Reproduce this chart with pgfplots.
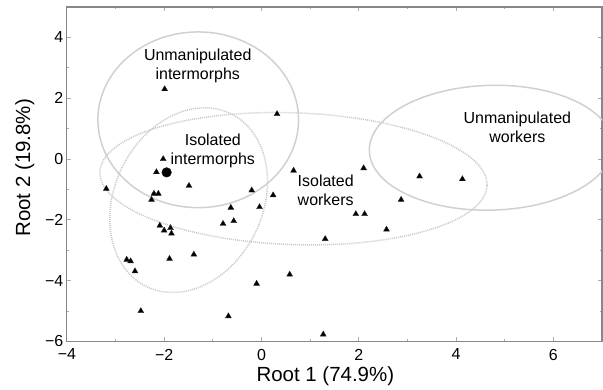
\documentclass[border=0pt]{standalone}
\usepackage{fontspec}
\setmainfont{Liberation Sans}
\usepackage{pgfplots}
\pgfplotsset{compat=1.18}
\definecolor{ellgray}{RGB}{208,208,208}
\definecolor{dotgray}{RGB}{200,200,200}
\definecolor{framegray}{RGB}{135,135,135}
\begin{document}
\begin{tikzpicture}
\begin{axis}[
  name=ax,
  scale only axis,
  width=536pt, height=335pt,
  xmin=-4, xmax=7, ymin=-6, ymax=5,
  xtick={-4,-2,0,2,4,6},
  xticklabels={−4,−2,0,2,4,6},
  ytick={-6,-4,-2,0,2,4},
  yticklabels={−6,−4,−2,0,2,4},
  minor x tick num=1, minor y tick num=1,
  tick align=inside,
  major tick length=4pt, minor tick length=2.5pt,
  every tick/.style={framegray!70, line width=0.8pt},
  axis line style={framegray, line width=1.2pt},
  tick label style={font=\fontsize{16}{19}\selectfont, text=black},
  xticklabel style={yshift=-4pt},
  /pgf/number format/assume math mode=true,
  xlabel={Root 1 (74.9\%)},
  ylabel={Root 2 (19.8\%)},
  label style={font=\fontsize{20.5}{24}\selectfont},
  xlabel style={at={(axis description cs:0.483,0)}, anchor=center, yshift=-35pt},
  ylabel style={at={(axis description cs:-0.0784,0.519)}, anchor=center},
]
% confidence ellipses
\draw[ellgray, line width=1.5pt] (axis cs:-1.30,1.29) ellipse [x radius=100.5pt, y radius=88pt];
\draw[dotgray, line width=1.5pt, dash pattern=on 1pt off 1pt, rotate around={64:(axis cs:-1.497,-1.353)}] (axis cs:-1.497,-1.353) ellipse [x radius=96.3pt, y radius=74.3pt];
\draw[dotgray, line width=1.5pt, dash pattern=on 1pt off 1pt, rotate around={-2:(axis cs:0.658,-0.647)}] (axis cs:0.658,-0.647) ellipse [x radius=194pt, y radius=66pt];
\draw[ellgray, line width=1.5pt, rotate around={1.5:(axis cs:4.72,0.371)}] (axis cs:4.72,0.371) ellipse [x radius=122pt, y radius=62.5pt];

\addplot[only marks, mark=triangle*, mark size=3.4pt, mark options={fill=black, draw=black!85}] coordinates {
(-1.99,2.30) (0.32,1.48) (-2.02,0.00) (-2.16,-0.43) (-1.49,-0.88)
(0.66,-0.38) (-3.19,-0.98) (-0.20,-1.03) (0.24,-1.19) (-2.21,-1.14)
(-2.12,-1.14) (-2.26,-1.34) (-0.63,-1.60) (-0.04,-1.58) (-0.79,-2.13)
(-0.57,-2.04) (-2.09,-2.19) (-2.00,-2.35) (-1.87,-2.27) (-1.85,-2.45)
(1.31,-2.63) (-2.77,-3.31) (-2.69,-3.36) (-2.60,-3.69) (-1.89,-3.28)
(-1.39,-3.14) (0.58,-3.80) (-0.10,-4.10) (-2.48,-5.00) (-0.68,-5.17)
(1.27,-5.77) (2.10,-0.30) (3.25,-0.57) (4.13,-0.66) (2.87,-1.34)
(1.94,-1.81) (2.12,-1.81) (2.57,-2.32)
};
\addplot[only marks, mark=*, mark size=4.8pt, mark options={fill=black, draw=black}] coordinates {(-1.95,-0.44)};

\node[align=center, font=\fontsize{16}{19}\selectfont] at (axis cs:-1.31,3.05) {Unmanipulated\\intermorphs};
\node[align=center, font=\fontsize{16}{19}\selectfont] at (axis cs:-1.0,0.26) {Isolated\\intermorphs};
\node[align=center, font=\fontsize{16}{19}\selectfont] at (axis cs:1.32,-1.04) {Isolated\\workers};
\node[align=center, font=\fontsize{16}{19}\selectfont] at (axis cs:5.26,1.03) {Unmanipulated\\workers};
\end{axis}
\pgfresetboundingbox
\path[use as bounding box] ([shift={(-67pt,-48pt)}]ax.south west) rectangle ([shift={(1pt,7pt)}]ax.north east);
\end{tikzpicture}
\end{document}
